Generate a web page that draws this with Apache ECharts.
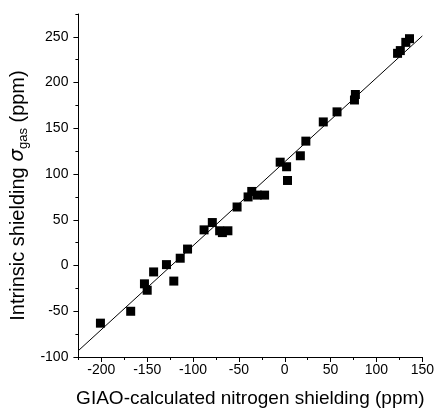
<!DOCTYPE html>
<html><head><meta charset="utf-8">
<script src="https://cdn.jsdelivr.net/npm/echarts@6/dist/echarts.min.js"></script>
<style>html,body{margin:0;padding:0;background:#fff}#c{width:437px;height:414px}</style>
</head><body><div id="c"></div>
<script>
const xValues = [-201,-168,-153,-150,-143,-129,-121,-114,-106,-88,-79,-71,-68,-62,-52,-40,-36,-30,-22,-5,2,3,17,23,42,57,76,77,123,126,132,136];
const yValues = [-63,-50,-20,-27,-7,1,-17,8,18,39,47,38,36,38,64,75,81,77,77,113,108,93,120,136,157,168,181,187,232,235,244,248];
const fitLine = [[-225,-93],[150,251]];
const xMajorTicks = [-200,-150,-100,-50,0,50,100,150];
const xMinorTicks = [-225,-175,-125,-75,-25,25,75,125];
const yMajorTicks = [-100,-50,0,50,100,150,200,250];
const yMinorTicks = [-75,-25,25,75,125,175,225,275];

const points = xValues.map((x,i)=>[x,yValues[i]]);
const font = '"Liberation Sans", Arial, sans-serif';
const chart = echarts.init(document.getElementById('c'));
chart.setOption({
  animation:false,
  backgroundColor:'#fff',
  grid:{left:77,right:14,top:14,bottom:57,containLabel:false},
  xAxis:[
    {type:'value',min:-225,max:150,position:'bottom',
      axisLine:{show:true,onZero:false,lineStyle:{color:'#000',width:1}},splitLine:{show:false},
      name:'GIAO-calculated nitrogen shielding (ppm)',nameLocation:'middle',nameGap:32,
      nameTextStyle:{fontFamily:font,fontSize:19,color:'#000'},
      axisTick:{show:true,inside:false,length:5,customValues:xMajorTicks,lineStyle:{color:'#000'}},
      axisLabel:{show:true,customValues:xMajorTicks,margin:6,fontFamily:font,fontSize:14,color:'#000'}},
    {type:'value',min:-225,max:150,position:'bottom',offset:0,
      axisLine:{show:false,onZero:false},splitLine:{show:false},axisLabel:{show:false},
      axisTick:{show:true,length:3,customValues:xMinorTicks,lineStyle:{color:'#000'}}}
  ],
  yAxis:[
    {type:'value',min:-100,max:275,position:'left',
      axisLine:{show:true,onZero:false,lineStyle:{color:'#000',width:1}},splitLine:{show:false},
      name:'{a|Intrinsic shielding }{s|σ}{g|gas}{a| (ppm)}',nameLocation:'middle',nameGap:47,nameRotate:90,
      nameTextStyle:{fontFamily:font,fontSize:20,color:'#000',padding:[0,20,0,0],
        rich:{a:{fontFamily:font,fontSize:20,color:'#000'},
              s:{fontFamily:'"DejaVu Sans", sans-serif',fontStyle:'italic',fontSize:20,color:'#000'},
              g:{fontFamily:font,fontSize:13,color:'#000',padding:[10,0,0,0]}}},
      axisTick:{show:true,inside:false,length:5,customValues:yMajorTicks,lineStyle:{color:'#000'}},
      axisLabel:{show:true,customValues:yMajorTicks,margin:10,fontFamily:font,fontSize:14,color:'#000'}},
    {type:'value',min:-100,max:275,position:'left',offset:0,
      axisLine:{show:false,onZero:false},splitLine:{show:false},axisLabel:{show:false},
      axisTick:{show:true,length:3,customValues:yMinorTicks,lineStyle:{color:'#000'}}}
  ],
  series:[
    {type:'line',data:fitLine,xAxisIndex:0,yAxisIndex:0,showSymbol:false,symbol:'none',
      lineStyle:{color:'#000',width:1},z:2},
    {type:'scatter',data:points,xAxisIndex:0,yAxisIndex:0,symbol:'rect',symbolSize:9,
      itemStyle:{color:'#000',opacity:1},z:3}
  ]
});
</script></body></html>
